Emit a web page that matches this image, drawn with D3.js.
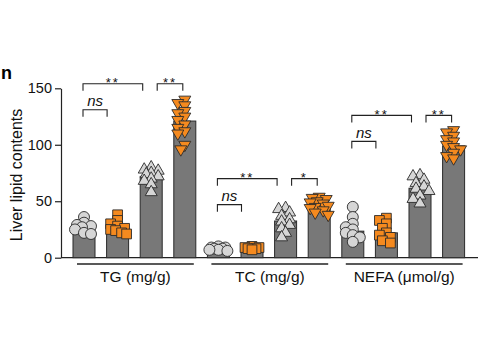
<!DOCTYPE html>
<html><head><meta charset="utf-8">
<script src="https://cdn.jsdelivr.net/npm/d3@7"></script>
<style>body{margin:0;background:#fff;} svg{display:block;font-family:"Liberation Sans",Arial,sans-serif;}</style>
</head><body><svg id="c" width="480" height="360"></svg>
<script>
// ---- data ----
const groups = ["TG (mg/g)", "TC (mg/g)", "NEFA (\u03bcmol/g)"];
const conditions = ["ctrlA", "ctrlB", "testA", "testB"];
const yTicks = [0, 50, 100, 150];
const yLabel = "Liver lipid contents";
const panelLetter = "n";

const tgMeans = [27, 26.5, 72, 121];
const tcMeans = [7.5, 7.5, 32.5, 46.5];
const nefaMeans = [23.5, 22, 61.5, 99];

const tgPoints = [
  [36, 31, 29, 28, 27, 25, 22, 21],
  [38, 33, 30, 28, 26, 25, 24, 22, 21],
  [80, 78, 77, 75, 74, 72, 70, 68, 65, 58],
  [140, 137, 135, 130, 128, 125, 122, 118, 115, 112, 110, 100, 96]
];
const tcPoints = [
  [6, 7, 7, 8, 8, 9, 9, 10],
  [7, 8, 8, 9, 9, 10],
  [44, 43, 40, 37, 34, 32, 29, 26, 22, 18],
  [54, 53, 52, 50, 49, 48, 46, 45, 44, 42, 40, 38]
];
const nefaPoints = [
  [45, 36, 30, 27, 25, 22, 20, 18, 14],
  [35, 33, 30, 26, 22, 20, 18, 15, 13],
  [73, 72, 69, 66, 63, 61, 59, 55, 52, 48],
  [113, 111, 108, 105, 103, 100, 98, 96, 93, 90, 88]
];
// significance bracket heights (data units) and labels
const sigTop = [154, 70, 126];
const sigLabels = [
  ["ns", "**", "**"],
  ["ns", "**", "*"],
  ["ns", "**", "**"]
];

const allMeans = [tgMeans, tcMeans, nefaMeans];
const allPoints = [tgPoints, tcPoints, nefaPoints];

// ---- layout ----
const svg = d3.select("#c");
const y = d3.scaleLinear().domain([0, 150]).range([257.7, 88.3]);
const ids = [];
groups.forEach((g, gi) => conditions.forEach((c, ci) => ids.push(gi + "_" + ci)));
const x = d3.scaleBand().domain(ids).range([67.2, 470.4]).paddingInner(0.345).paddingOuter(0.1725);
const cx = id => x(id) + x.bandwidth() / 2;

const barFill = "#787878", stroke = "#2a2a2a";
const orange = "#f58a1f", light = "#d6d6d6";
const symbols = [
  {type: d3.symbolCircle, size: 95, fill: light, rot: 0},
  {type: d3.symbolSquare, size: 95, fill: orange, rot: 0},
  {type: d3.symbolTriangle, size: 62, fill: light, rot: 0},
  {type: d3.symbolTriangle, size: 62, fill: orange, rot: 180}
];

// axes
const yAxis = d3.axisLeft(y).tickValues(yTicks).tickSize(6).tickSizeOuter(0).tickPadding(3);
const gy = svg.append("g").attr("transform", "translate(61,0)").call(yAxis);
gy.selectAll("text").attr("font-size", 14.5).attr("fill", "#111").style("font-family", "Liberation Sans, Arial, sans-serif");
gy.selectAll("line,path").attr("stroke", "#222").attr("stroke-width", 1.2);

svg.append("line").attr("x1", 61).attr("x2", 478).attr("y1", y(0)).attr("y2", y(0))
  .attr("stroke", "#222").attr("stroke-width", 1.2);

svg.append("text").attr("transform", `translate(22,${(y(0) + y(150)) / 2 + 2}) rotate(-90)`)
  .attr("text-anchor", "middle").attr("font-size", 16).attr("fill", "#111").text(yLabel);
svg.append("text").attr("x", 1).attr("y", 79).attr("font-size", 18).attr("font-weight", "bold").text(panelLetter);

function swarm(vals, center) {
  const placed = [];
  const offs = [0, -4, 4, -7, 7, -2, 2, -5, 5, -9, 9];
  vals.slice().sort((a, b) => b - a).forEach(v => {
    const py = y(v);
    let best = 0, bestD = -1;
    for (const o of offs) {
      let minD = Infinity;
      for (const p of placed) minD = Math.min(minD, Math.hypot(p.x - (center + o), p.y - py));
      if (minD >= 5.5) { best = o; bestD = minD; break; }
      if (minD > bestD) { bestD = minD; best = o; }
    }
    placed.push({x: center + best, y: py});
  });
  return placed;
}

groups.forEach((g, gi) => {
  const gIds = conditions.map((c, ci) => gi + "_" + ci);
  // bars
  svg.append("g").selectAll("rect").data(allMeans[gi]).join("rect")
    .attr("x", (d, i) => x(gIds[i])).attr("width", x.bandwidth())
    .attr("y", d => y(d)).attr("height", d => y(0) - y(d))
    .attr("fill", barFill).attr("stroke", stroke).attr("stroke-width", 1);
  // points
  allPoints[gi].forEach((vals, ci) => {
    const s = symbols[ci];
    const pts = swarm(vals, cx(gIds[ci]));
    svg.append("g").selectAll("path").data(pts).join("path")
      .attr("d", d3.symbol().type(s.type).size(s.size))
      .attr("transform", d => `translate(${d.x},${d.y}) rotate(${s.rot})`)
      .attr("fill", s.fill).attr("stroke", stroke).attr("stroke-width", 0.9);
  });
  // group underline + label
  const x0 = x(gIds[0]) + 4, x1 = x(gIds[3]) + x.bandwidth() - 2;
  svg.append("line").attr("x1", x0).attr("x2", x1).attr("y1", 264).attr("y2", 264)
    .attr("stroke", "#222").attr("stroke-width", 1.3);
  svg.append("text").attr("x", (x0 + x1) / 2).attr("y", 282).attr("text-anchor", "middle")
    .attr("font-size", 15.5).attr("fill", "#111").text(g);
  // brackets
  const topY = y(sigTop[gi]);
  const nsY = topY + 26;
  const brackets = [
    {x1: cx(gIds[0]) - 1, x2: cx(gIds[1]) - 10.5, yy: nsY, label: sigLabels[gi][0]},
    {x1: cx(gIds[0]) - 1, x2: cx(gIds[2]) - 8.5, yy: topY, label: sigLabels[gi][1]},
    {x1: cx(gIds[2]) + 6, x2: cx(gIds[3]) - 2, yy: topY, label: sigLabels[gi][2]}
  ];
  brackets.forEach(b => {
    svg.append("path").attr("d", `M${b.x1},${b.yy + 7}V${b.yy}H${b.x2}V${b.yy + 7}`)
      .attr("fill", "none").attr("stroke", "#222").attr("stroke-width", 1.1);
    const isNs = b.label === "ns";
    svg.append("text").attr("x", (b.x1 + b.x2) / 2).attr("y", isNs ? b.yy - 3.5 : b.yy + 3.5)
      .attr("text-anchor", "middle").attr("font-size", isNs ? 15 : 13)
      .attr("font-style", isNs ? "italic" : "normal")
      .attr("letter-spacing", isNs ? 0 : 2).attr("fill", "#111").text(b.label);
  });
});
</script></body></html>
